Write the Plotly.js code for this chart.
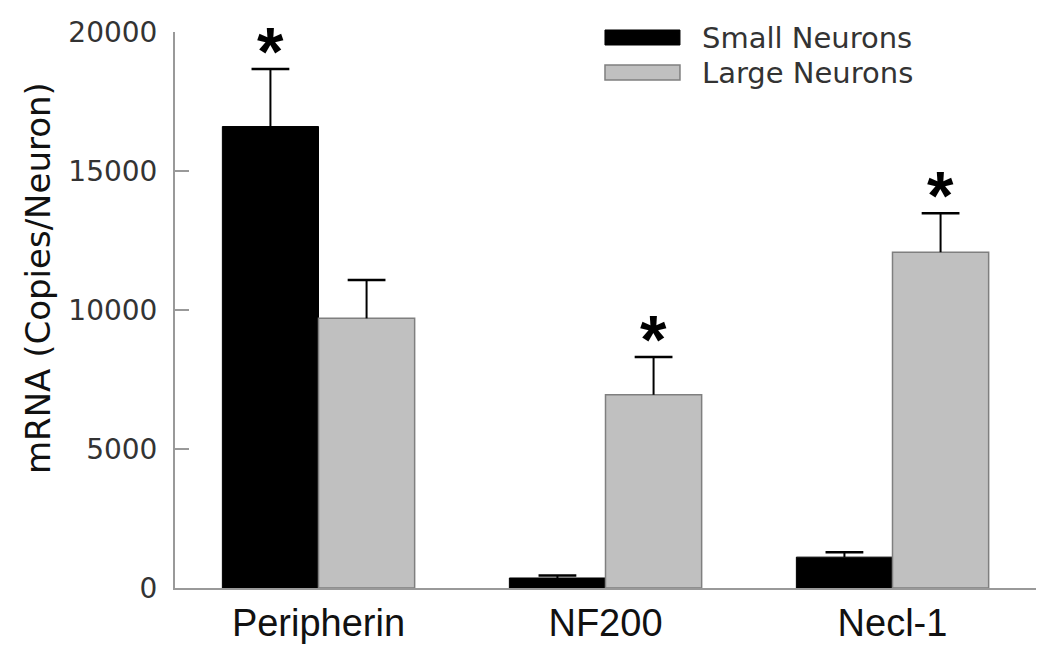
<!DOCTYPE html>
<html>
<head>
<meta charset="utf-8">
<script src="https://cdn.plot.ly/plotly-3.0.1.min.js"></script>
<style>html,body{margin:0;padding:0;background:#fff;}#chart{width:1050px;height:653px;}</style>
</head>
<body>
<div id="chart"></div>
<script>
const categories = ["Peripherin", "NF200", "Necl-1"];
const seriesNames = ["Small Neurons", "Large Neurons"];
const smallValues = [16600, 360, 1110];
const smallErrors = [2070, 90, 180];
const largeValues = [9700, 6950, 12080];
const largeErrors = [1380, 1360, 1400];
const smallSignificant = [true, false, false];
const largeSignificant = [false, true, true];
const yTicks = [0, 5000, 10000, 15000, 20000];
const yTitle = "mRNA (Copies/Neuron)";

const ARIAL = "Liberation Sans, Arial, sans-serif";
const WIDE = "DejaVu Sans, Verdana, sans-serif";

function barTrace(name, vals, errs, fill, edge, edgeW) {
  return {
    type: "bar", name: name, x: categories, y: vals,
    marker: {color: fill, line: {color: edge, width: edgeW}},
    error_y: {type: "data", symmetric: false, array: errs, arrayminus: errs.map(() => 0), color: "#000000", thickness: 2, width: 0},
    showlegend: false, hoverinfo: "skip"
  };
}
function capTrace(name, vals, errs) {
  return {
    type: "scatter", mode: "markers", name: name + " SEM", x: categories,
    y: vals.map((v, i) => v + errs[i]),
    marker: {symbol: "line-ew", size: 27, color: "#000", line: {color: "#000", width: 2.5}},
    showlegend: false, hoverinfo: "skip", cliponaxis: false
  };
}

const traces = [
  barTrace(seriesNames[0], smallValues, smallErrors, "#000000", "#000000", 1),
  barTrace(seriesNames[1], largeValues, largeErrors, "#c0c0c0", "#7f7f7f", 1.5),
  capTrace(seriesNames[0], smallValues, smallErrors),
  capTrace(seriesNames[1], largeValues, largeErrors)
];

const annotations = [];
categories.forEach((c, i) => {
  if (smallSignificant[i]) annotations.push({x: c, y: smallValues[i] + smallErrors[i], xref: "x", yref: "y", xshift: -48, yshift: -22, yanchor: "bottom", text: "*", showarrow: false, font: {family: ARIAL, size: 68, color: "#000", weight: "bold"}});
  if (largeSignificant[i]) annotations.push({x: c, y: largeValues[i] + largeErrors[i], xref: "x", yref: "y", xshift: 48, yshift: -22, yanchor: "bottom", text: "*", showarrow: false, font: {family: ARIAL, size: 68, color: "#000", weight: "bold"}});
});
annotations.push({x: 0.6098, y: 0.99, xref: "paper", yref: "paper", text: seriesNames[0], showarrow: false, xanchor: "left", yanchor: "middle", font: {family: WIDE, size: 29, color: "#333"}});
annotations.push({x: 0.6098, y: 0.927, xref: "paper", yref: "paper", text: seriesNames[1], showarrow: false, xanchor: "left", yanchor: "middle", font: {family: WIDE, size: 29, color: "#333"}});
annotations.push({x: -0.159, y: 0.5576, xref: "paper", yref: "paper", text: yTitle, textangle: -90, showarrow: false, xanchor: "center", yanchor: "middle", font: {family: WIDE, size: 34, color: "#111"}});

const shapes = [
  {type: "rect", xref: "paper", yref: "paper", x0: 0.4994, x1: 0.5865, y0: 0.9766, y1: 1.0036, fillcolor: "#000000", line: {color: "#000000", width: 1}},
  {type: "rect", xref: "paper", yref: "paper", x0: 0.4994, x1: 0.5865, y0: 0.9137, y1: 0.9406, fillcolor: "#c0c0c0", line: {color: "#7f7f7f", width: 1.5}}
];

const layout = {
  width: 1050, height: 653,
  margin: {l: 175, r: 14, t: 32, b: 65, pad: 0},
  paper_bgcolor: "#ffffff", plot_bgcolor: "#ffffff",
  barmode: "group", bargap: 0.33, bargroupgap: 0,
  scattermode: "group", scattergap: 0.33,
  showlegend: false,
  font: {family: ARIAL, color: "#222"},
  xaxis: {
    type: "category", range: [-0.5, 2.5],
    showline: true, linecolor: "#999999", linewidth: 2,
    ticks: "", showgrid: false, zeroline: false,
    tickfont: {family: ARIAL, size: 38, color: "#111"}
  },
  yaxis: {
    range: [0, 20000], tickvals: yTicks, ticktext: yTicks.map(String),
    showline: true, linecolor: "#999999", linewidth: 2,
    ticks: "inside", ticklen: 14, tickcolor: "#999999", tickwidth: 1.5,
    showgrid: false, zeroline: false, ticklabelstandoff: 10,
    tickfont: {family: WIDE, size: 28, color: "#333"}
  },
  annotations: annotations,
  shapes: shapes
};

Plotly.newPlot("chart", traces, layout, {displayModeBar: false, staticPlot: true});
</script>
</body>
</html>
